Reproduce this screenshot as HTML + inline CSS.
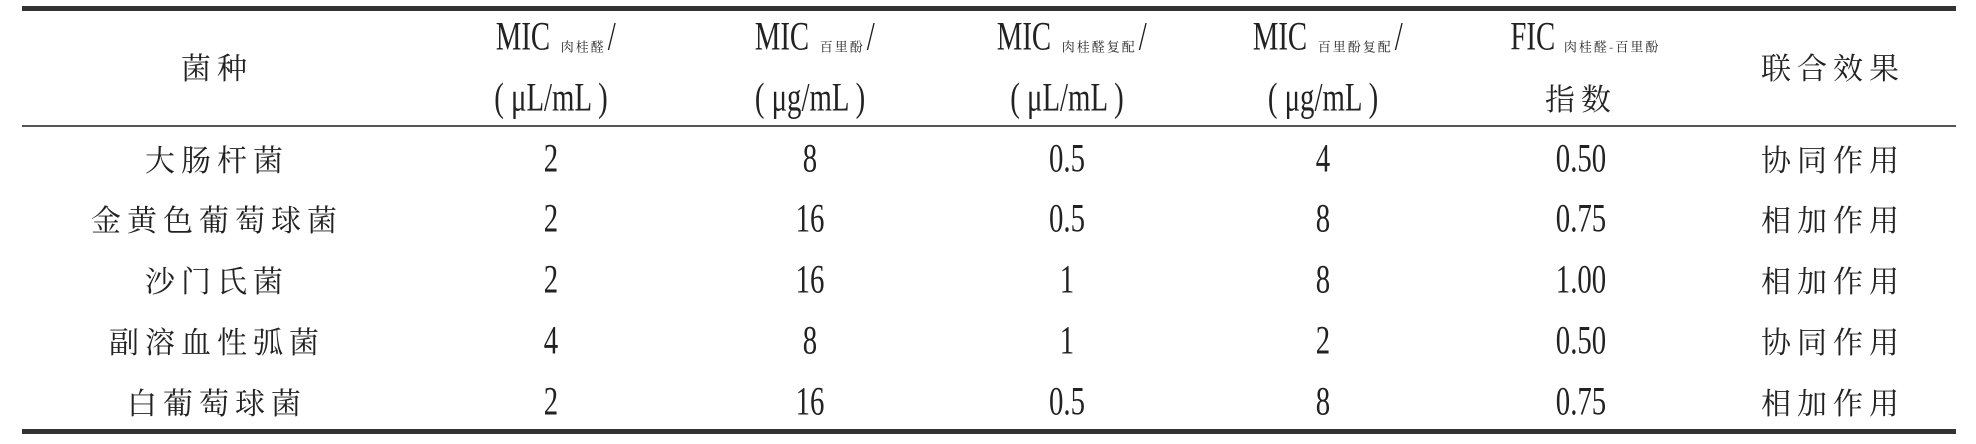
<!DOCTYPE html>
<html><head><meta charset="utf-8"><style>
body{margin:0;width:1976px;height:444px;background:#fff;overflow:hidden;position:relative;font-family:"Liberation Serif","Noto Serif CJK SC",serif;color:#222}
.l{position:absolute;left:22px;width:1934px;background:#333}
.c{position:absolute;transform:translate(-50%,-50%);white-space:nowrap;text-align:center}
.n{font-size:40px;display:inline-block;transform:scaleX(0.72)}
.z{font-family:"Noto Serif CJK SC","Liberation Serif",serif;font-size:30px;letter-spacing:6px}
.s{font-family:"Noto Serif CJK SC",serif;font-size:13px;letter-spacing:2px;vertical-align:-2px}
.h{font-size:40px;display:inline-block;transform:scaleX(0.72)}
</style></head><body>
<div class="l" style="top:6px;height:5px"></div>
<div class="l" style="top:125px;height:2px;background:#555"></div>
<div class="l" style="top:429px;height:5px"></div>
<div id="t"></div>
<script>
const cols=[217,551,810,1067,1323,1581,1833];
const names=["大肠杆菌","金黄色葡萄球菌","沙门氏菌","副溶血性弧菌","白葡萄球菌"];
const micC=["2","2","2","4","2"];
const micT=["8","16","16","8","16"];
const micCc=["0.5","0.5","1","1","0.5"];
const micTc=["4","8","8","2","8"];
const fic=["0.50","0.75","1.00","0.50","0.75"];
const eff=["协同作用","相加作用","相加作用","协同作用","相加作用"];
const rows=[158,218,279,340,401];
const t=document.getElementById('t');
function add(x,y,html,name){const d=document.createElement('div');d.className='c';d.style.left=x+'px';d.style.top=y+'px';d.innerHTML=html;


t.appendChild(d);}
add(cols[0],66,'<span class="z">菌种</span>','header-species');
add(cols[1],36,'<span class="h">MIC</span><span class="s">肉桂醛</span><span class="h">/</span>','header-mic-cin');
add(cols[1],97,'<span class="h">( μL/mL )</span>','header-mic-cin-unit');
add(cols[2],36,'<span class="h">MIC</span><span class="s">百里酚</span><span class="h">/</span>','header-mic-thy');
add(cols[2],97,'<span class="h">( μg/mL )</span>','header-mic-thy-unit');
add(cols[3],36,'<span class="h">MIC</span><span class="s">肉桂醛复配</span><span class="h">/</span>','header-mic-cin-comb');
add(cols[3],97,'<span class="h">( μL/mL )</span>','header-mic-cin-comb-unit');
add(cols[4],36,'<span class="h">MIC</span><span class="s">百里酚复配</span><span class="h">/</span>','header-mic-thy-comb');
add(cols[4],97,'<span class="h">( μg/mL )</span>','header-mic-thy-comb-unit');
add(cols[5],36,'<span class="h">FIC</span><span class="s">肉桂醛-百里酚</span>','header-fic');
add(cols[5],97,'<span class="z">指数</span>','header-fic-index');
add(cols[6],66,'<span class="z">联合效果</span>','header-effect');
for(let i=0;i<names.length;i++){
 const y=rows[i];
 add(cols[0],y,'<span class="z">'+names[i]+'</span>','species-'+(i+1));
 add(cols[1],y,'<span class="n">'+micC[i]+'</span>','mic-cin-'+(i+1));
 add(cols[2],y,'<span class="n">'+micT[i]+'</span>','mic-thy-'+(i+1));
 add(cols[3],y,'<span class="n">'+micCc[i]+'</span>','mic-cin-comb-'+(i+1));
 add(cols[4],y,'<span class="n">'+micTc[i]+'</span>','mic-thy-comb-'+(i+1));
 add(cols[5],y,'<span class="n">'+fic[i]+'</span>','fic-'+(i+1));
 add(cols[6],y,'<span class="z">'+eff[i]+'</span>','effect-'+(i+1));
}
</script>
</body></html>
